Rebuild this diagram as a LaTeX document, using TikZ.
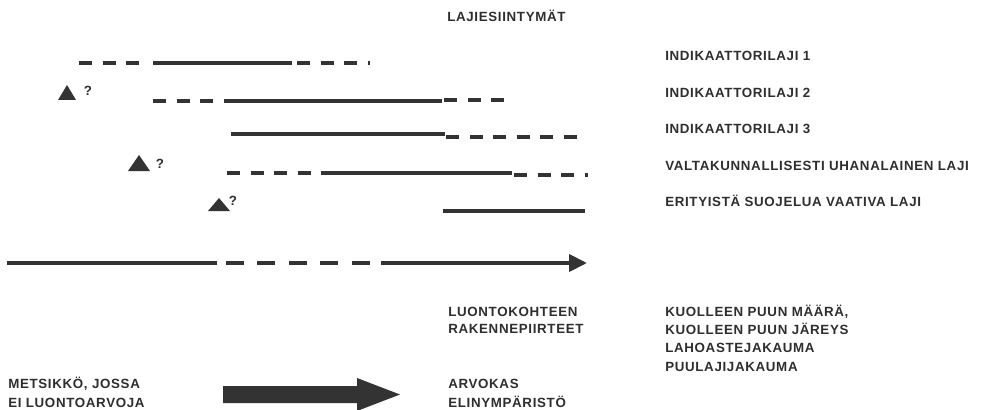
\documentclass[tikz,border=0pt]{standalone}
\usepackage{fontspec}
\setmainfont{Liberation Sans}[LetterSpace=5]
\usetikzlibrary{arrows.meta}

\begin{document}
\begin{tikzpicture}[
		x=0.75pt, y=-0.75pt,
		ink/.style={black!80},
		solidln/.style={ink, line width=2.3pt},
		dashln/.style={ink, line width=2.3pt, dash pattern=on 9.75pt off 7.9pt},
		axisln/.style={ink, line width=3pt},
		axisdash/.style={ink, line width=3pt, dash pattern=on 13.5pt off 10.1pt},
		lbl/.style={
			anchor=base west,
			inner sep=0pt,
			text=black!82,
			font=\bfseries\fontsize{10}{13}\selectfont
		}
		]
		
		\useasboundingbox (0,0) rectangle (982,410);
		
		%--------------------------------------------------
		% Labels
		%--------------------------------------------------
		
		\node[lbl] (lajit) at (447,21.5) {LAJIESIINTYMÄT};
		
		\node[lbl] (ind1) at (665,60.5) {INDIKAATTORILAJI 1};
		\node[lbl] (ind2) at (665,97.5) {INDIKAATTORILAJI 2};
		\node[lbl] (ind3) at (665,133.5) {INDIKAATTORILAJI 3};
		\node[lbl] (uhan) at (665,170.5) {VALTAKUNNALLISESTI UHANALAINEN LAJI};
		\node[lbl] (erit) at (665,206.5) {ERITYISTÄ SUOJELUA VAATIVA LAJI};
		
		\node[lbl] (luo1) at (448,316.5) {LUONTOKOHTEEN};
		\node[lbl] (luo2) at (448,333.5) {RAKENNEPIIRTEET};
		
		\node[lbl] (kuo1) at (665,316.5) {KUOLLEEN PUUN MÄÄRÄ,};
		\node[lbl] (kuo2) at (665,334.5) {KUOLLEEN PUUN JÄREYS};
		\node[lbl] (laho) at (665,352.5) {LAHOASTEJAKAUMA};
		\node[lbl] (puul) at (665,371.5) {PUULAJIJAKAUMA};
		
		\node[lbl] (met1) at (8,388.5) {METSIKKÖ, JOSSA};
		\node[lbl] (met2) at (8,407.5) {EI LUONTOARVOJA};
		
		\node[lbl] (arv1) at (448,388.5) {ARVOKAS};
		\node[lbl] (arv2) at (448,407.5) {ELINYMPÄRISTÖ};
		
		%--------------------------------------------------
		% Species lines
		%--------------------------------------------------
		
		\draw[dashln] (79,63) -- (141,63);
		\draw[solidln] (153,63) -- (292,63);
		\draw[dashln] (297,63) -- (370,63);
		
		\draw[dashln] (153,101) -- (215,101);
		\draw[solidln] (224,101) -- (442,101);
		\draw[dashln] (444,100) -- (507,100);
		
		\draw[solidln] (231,134) -- (445,134);
		\draw[dashln] (446,137) -- (579,137);
		
		\draw[dashln] (227,173) -- (330,173);
		\draw[solidln] (330,173) -- (512,173);
		\draw[dashln] (514,175) -- (588,175);
		
		\draw[solidln] (443,211) -- (585,211);
		
		%--------------------------------------------------
		% Triangles with question marks
		%--------------------------------------------------
		
		\foreach \x/\y/\w/\h/\qx/\qy in {67/100/9/15/88/91, 139/171/11/16/160/164, 219/211/11/13/233/201}
		{
			\fill[ink] (\x-\w,\y) -- (\x+\w,\y) -- (\x,\y-\h) -- cycle;
			\node[lbl, anchor=center] at (\qx,\qy) {?};
		}
		
		%--------------------------------------------------
		% Axis
		%--------------------------------------------------
		
		\draw[axisln] (7,263) -- (217,263);
		\draw[axisdash] (226,263) -- (371,263);
		\draw[axisln, -{Triangle[length=13.5pt,width=12.75pt]}] (381,263) -- (587,263);
		
		%--------------------------------------------------
		% Big arrow
		%--------------------------------------------------
		
		\fill[ink] (223,386) -- (357,386) -- (357,378) -- (400,394.5)
		-- (357,411) -- (357,403) -- (223,403) -- cycle;
		
	\end{tikzpicture}
\end{document}
